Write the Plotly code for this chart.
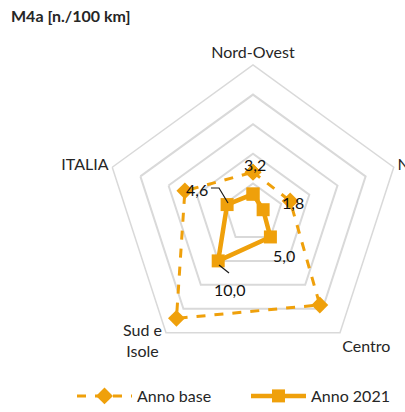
import plotly.graph_objects as go

categories = ["Nord-Ovest", "Nord-Est", "Centro", "Sud e Isole", "ITALIA"]
tick_text = ["Nord-Ovest", "Nord-Est", "Centro", "", "ITALIA"]
anno_base = [6.9, 6.6, 19.2, 22.0, 12.1]
anno_2021 = [3.2, 1.8, 5.0, 10.0, 4.6]
labels_2021 = ["3,2", "1,8", "5,0", "10,0", "4,6"]

ORANGE = "#EFA00B"
GRID = "#D9D9D9"
FONT = "Lato, 'Open Sans', sans-serif"

W, H = 405, 412
cx, cy, R = 253, 213, 148

def px(x):
    return x / W

def py(y):
    return 1 - y / H

fig = go.Figure()
fig.add_trace(go.Scatterpolar(
    r=anno_base + anno_base[:1], theta=categories + categories[:1],
    mode="lines+markers", name="Anno base", legend="legend",
    line=dict(color=ORANGE, width=3, dash="dash"),
    marker=dict(symbol="diamond", size=13, color=ORANGE),
))
fig.add_trace(go.Scatterpolar(
    r=anno_2021 + anno_2021[:1], theta=categories + categories[:1],
    mode="lines+markers", name="Anno 2021", legend="legend2",
    line=dict(color=ORANGE, width=4.5),
    marker=dict(symbol="square", size=13, color=ORANGE),
))

# data label positions (pixels) for the 2021 series
label_pos = [(255, 165), (293, 202), (284, 256), (229, 289), (197, 189)]
annotations = []
for (x, y), t in zip(label_pos, labels_2021):
    annotations.append(dict(x=px(x), y=py(y), xref="paper", yref="paper",
                            text=t, showarrow=False,
                            font=dict(family=FONT, size=16, color="#111111"),
                            xanchor="center", yanchor="middle"))
annotations.append(dict(x=px(9), y=py(16), xref="paper", yref="paper",
                        text="<b>M4a [n./100 km]</b>", showarrow=False,
                        font=dict(family=FONT, size=16, color="#262626"),
                        xanchor="left", yanchor="middle"))
# axis label "Sud e Isole" on two lines, placed like the reference
annotations.append(dict(x=px(142), y=py(340), xref="paper", yref="paper",
                        text="Sud e<br>Isole", showarrow=False, align="center",
                        font=dict(family=FONT, size=16, color="#262626"),
                        xanchor="center", yanchor="middle"))

shapes = [
    dict(type="path", xref="paper", yref="paper",
         path=f"M {px(211)},{py(188)} L {px(219)},{py(188)} L {px(228)},{py(203)}",
         line=dict(color="#1a1a1a", width=1.2)),
    dict(type="line", xref="paper", yref="paper",
         x0=px(219), y0=py(265), x1=px(229), y1=py(273),
         line=dict(color="#1a1a1a", width=1.2)),
]

legend_common = dict(orientation="h", yanchor="middle", xanchor="left",
                     font=dict(size=16, color="#262626"), itemwidth=55,
                     bgcolor="rgba(0,0,0,0)")

fig.update_layout(
    width=W, height=H,
    margin=dict(l=0, r=0, t=0, b=0, autoexpand=False),
    paper_bgcolor="white", plot_bgcolor="white",
    font=dict(family=FONT, size=16, color="#262626"),
    polar=dict(
        domain=dict(x=[px(cx - R), px(cx + R)], y=[py(cy + R), py(cy - R)]),
        gridshape="linear",
        bgcolor="white",
        radialaxis=dict(range=[0, 25], dtick=5, showticklabels=False,
                        showline=False, ticks="", gridcolor=GRID, gridwidth=1.5),
        angularaxis=dict(direction="clockwise", rotation=90,
                         tickmode="array", tickvals=categories, ticktext=tick_text,
                         showgrid=False, showline=True, linecolor=GRID, linewidth=1.5,
                         ticks="", tickfont=dict(size=16, color="#262626")),
    ),
    showlegend=True,
    legend=dict(x=px(72), y=py(396), **legend_common),
    legend2=dict(x=px(246), y=py(396), **legend_common),
    annotations=annotations,
    shapes=shapes,
)

fig.write_html("out.html")
